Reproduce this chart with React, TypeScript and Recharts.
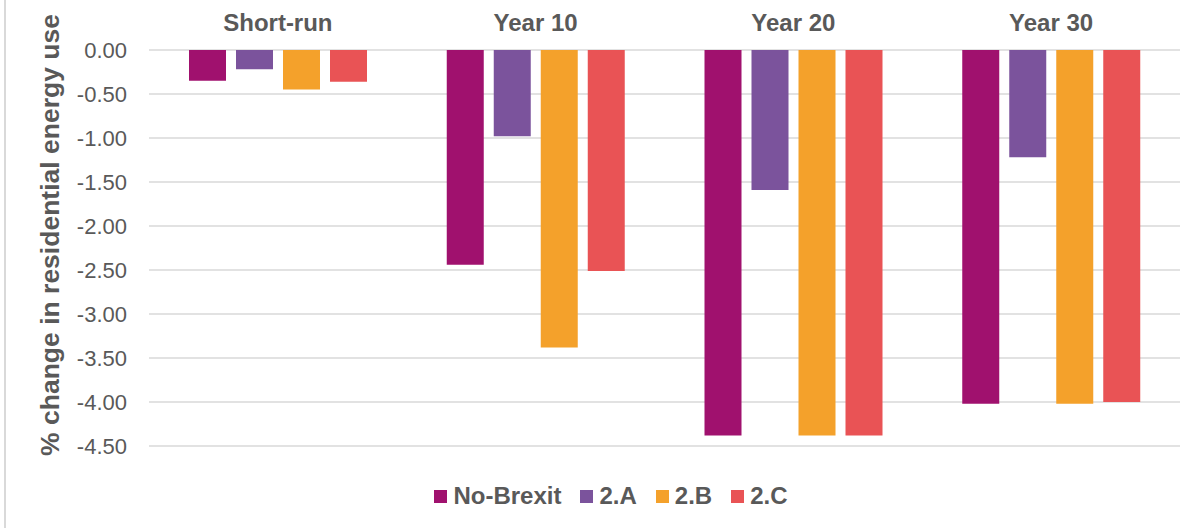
import { BarChart, Bar, XAxis, YAxis, CartesianGrid, Legend } from 'recharts';

const categories = ['Short-run', 'Year 10', 'Year 20', 'Year 30'];
const noBrexit = [-0.35, -2.44, -4.38, -4.02];
const scenarioA = [-0.22, -0.98, -1.59, -1.22];
const scenarioB = [-0.45, -3.38, -4.38, -4.02];
const scenarioC = [-0.36, -2.51, -4.38, -4.0];
const yTicks = [0, -0.5, -1, -1.5, -2, -2.5, -3, -3.5, -4, -4.5];

const series = [
  { key: 'noBrexit', name: 'No-Brexit', color: '#A0116E' },
  { key: 'a', name: '2.A', color: '#7B539C' },
  { key: 'b', name: '2.B', color: '#F4A12B' },
  { key: 'c', name: '2.C', color: '#E95355' },
];

const data = categories.map((name, i) => ({
  name,
  noBrexit: noBrexit[i],
  a: scenarioA[i],
  b: scenarioB[i],
  c: scenarioC[i],
}));

const FONT = '"Liberation Sans", Arial, sans-serif';
const TEXT = '#595959';

const LegendBox = () => (
  <div
    style={{
      height: 82,
      paddingTop: 38,
      paddingLeft: 22,
      boxSizing: 'border-box',
      display: 'flex',
      justifyContent: 'center',
      alignItems: 'flex-start',
      fontFamily: FONT,
      fontWeight: 'bold',
      fontSize: 24,
      color: TEXT,
      lineHeight: '24px',
    }}
  >
    {series.map((s, i) => (
      <div
        key={s.key}
        style={{ display: 'flex', alignItems: 'center', marginLeft: i === 0 ? 0 : 19 }}
      >
        <span style={{ width: 13, height: 13, background: s.color, marginRight: 6 }} />
        <span>{s.name}</span>
      </div>
    ))}
  </div>
);

const YLabel = (props: any) => {
  const vb = props.viewBox || { x: 0, y: 0, height: 0 };
  const x = vb.x + 50;
  const y = vb.y + vb.height / 2 - 13;
  return (
    <text
      x={x}
      y={y}
      transform={`rotate(-90, ${x}, ${y})`}
      textAnchor="middle"
      dominantBaseline="central"
      fill={TEXT}
      fontFamily={FONT}
      fontWeight="bold"
      fontSize={26.5}
    >
      % change in residential energy use
    </text>
  );
};

export default function App() {
  return (
    <div style={{ position: 'absolute', left: 0, top: 0, width: 1200, height: 528, background: '#fff' }}>
      <div style={{ position: 'absolute', left: 4, top: 0, width: 1.5, height: 528, background: '#d9d9d9' }} />
      <BarChart
        width={1200}
        height={528}
        data={data}
        margin={{ top: 1, right: 20, bottom: 0, left: 0 }}
        barCategoryGap={40}
        barGap={10}
      >
        <CartesianGrid vertical={false} stroke="#d9d9d9" strokeWidth={1.5} />
        <XAxis
          dataKey="name"
          orientation="top"
          height={49}
          axisLine={false}
          tickLine={false}
          tickSize={0}
          tickMargin={19}
          tick={{ fill: TEXT, fontSize: 24, fontWeight: 'bold', fontFamily: FONT }}
        />
        <YAxis
          width={149}
          domain={[-4.5, 0]}
          ticks={yTicks}
          interval={0}
          axisLine={false}
          tickLine={false}
          tickSize={0}
          tickMargin={22}
          tickFormatter={(v: number) => v.toFixed(2)}
          tick={{ fill: TEXT, fontSize: 22, fontFamily: FONT }}
          label={YLabel}
        />
        <Legend
          verticalAlign="bottom"
          content={LegendBox}
          wrapperStyle={{ left: 0, width: 1200, bottom: 0 }}
        />
        {series.map((s) => (
          <Bar key={s.key} dataKey={s.key} name={s.name} fill={s.color} isAnimationActive={false} />
        ))}
      </BarChart>
    </div>
  );
}
